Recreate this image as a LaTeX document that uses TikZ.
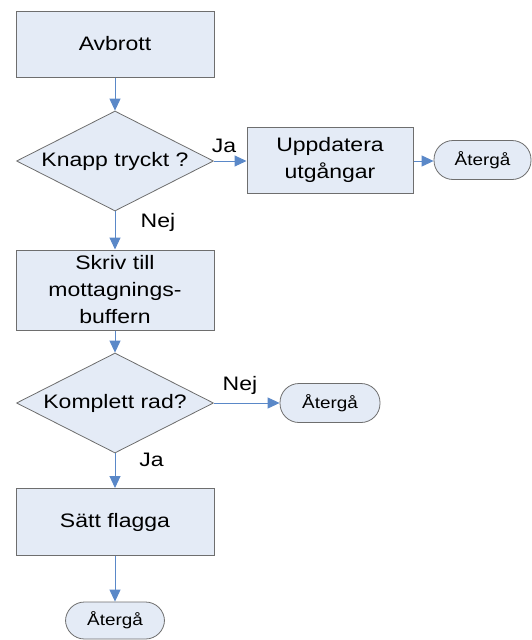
\documentclass[tikz,border=0pt]{standalone}
\usepackage{fontspec}
\setmainfont{Liberation Sans}[FakeStretch=1.18]
\usetikzlibrary{shapes.geometric,arrows.meta}
\definecolor{boxfill}{HTML}{E4EBF6}
\definecolor{boxline}{HTML}{6E6E6E}
\definecolor{arrowblue}{HTML}{5A88C8}
\tikzset{
  procbox/.style={draw=boxline, line width=1pt, fill=boxfill, rectangle, inner sep=0pt,
    align=center, font=\fontsize{19.5}{27}\selectfont},
  decbox/.style={draw=boxline, line width=0.8pt, fill=boxfill, diamond, aspect=1.97, inner sep=0pt,
    minimum width=197pt, minimum height=100pt, font=\fontsize{19.5}{27}\selectfont},
  termbox/.style={draw=boxline, line width=0.8pt, fill=boxfill, rectangle, rounded corners=19pt,
    inner sep=0pt, minimum height=39pt, font=\fontsize{16}{20}\selectfont},
  flow/.style={draw=arrowblue, line width=1pt, -{Triangle[length=12pt,width=11pt]}},
  lbl/.style={inner sep=0pt, anchor=base, font=\fontsize{19.5}{27}\selectfont}
}
\begin{document}
\begin{tikzpicture}[x=1pt,y=-1pt]
\useasboundingbox (0,0) rectangle (532,640);
\node[procbox, minimum width=198pt, minimum height=66pt] (avb) at (115,44) {Avbrott};
\node[decbox] (d1) at (115,161) {Knapp tryckt ?};
\node[procbox, minimum width=166pt, minimum height=66pt] (upd) at (330,160) {Uppdatera\\utgångar};
\node[termbox, minimum width=97pt] (r1) at (482.5,160) {Återgå};
\node[procbox, minimum width=198pt, minimum height=80pt] (skr) at (115,290) {Skriv till\\mottagnings-\\buffern};
\node[decbox] (d2) at (115,403) {Komplett rad?};
\node[termbox, minimum width=100pt] (r2) at (330,403) {Återgå};
\node[procbox, minimum width=198pt, minimum height=67pt] (sat) at (115,522) {Sätt flagga};
\node[termbox, minimum width=99pt, minimum height=37pt] (r3) at (115,620.5) {Återgå};

\draw[flow] (avb) -- (d1);
\draw[flow] (d1.east) -- (d1.east -| upd.west);
\draw[flow] (upd.east |- d1.east) -- (d1.east -| r1.west);
\draw[flow] (d1) -- (skr);
\draw[flow] (skr) -- (d2);
\draw[flow] (d2) -- (r2);
\draw[flow] (d2) -- (sat);
\draw[flow] (sat) -- (r3);

\node[lbl] (ja1) at (224,152) {Ja};
\node[lbl] (nej1) at (158,227) {Nej};
\node[lbl] (nej2) at (240,390) {Nej};
\node[lbl] (ja2) at (151.5,466) {Ja};
\end{tikzpicture}
\end{document}
